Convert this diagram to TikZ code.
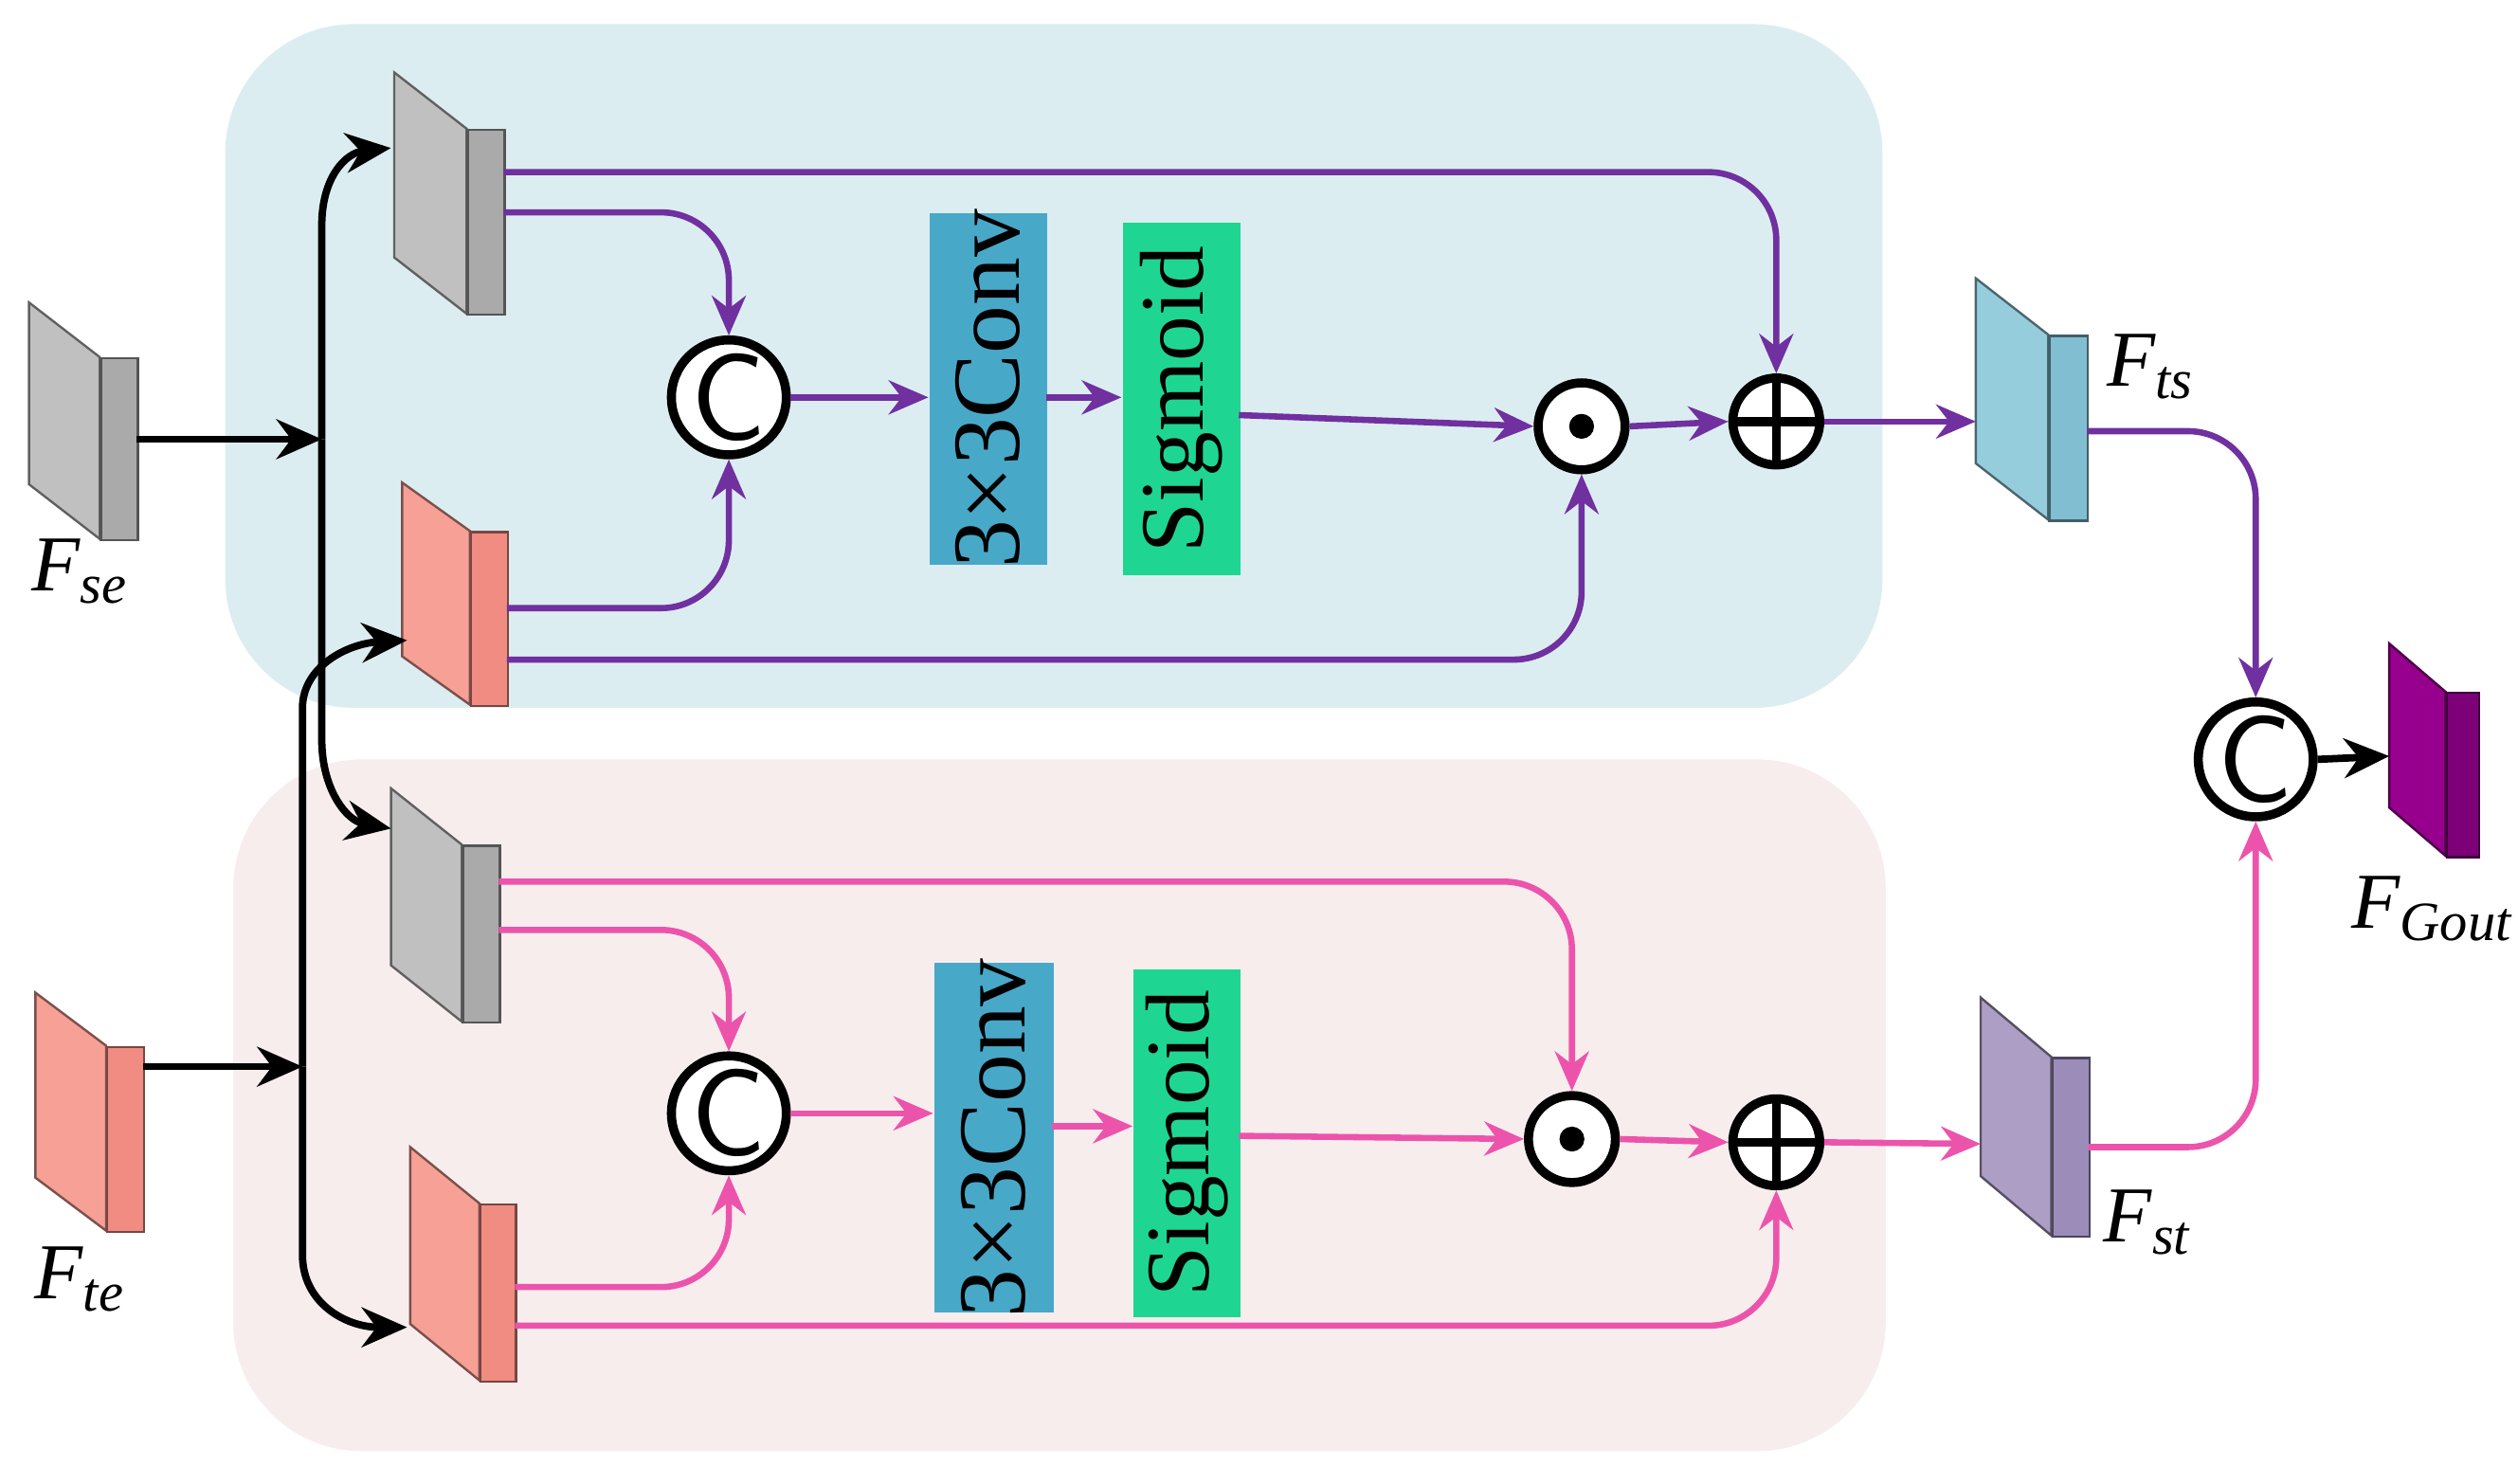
\documentclass[tikz,border=0pt]{standalone}
\usepackage{fontspec}
\setmainfont{Liberation Serif}
\usetikzlibrary{arrows.meta}
\definecolor{bgb}{RGB}{220,237,241}
\definecolor{bgp}{RGB}{248,237,237}
\definecolor{pur}{RGB}{112,48,160}
\definecolor{pnk}{RGB}{236,84,172}
\definecolor{gryA}{RGB}{192,192,192}
\definecolor{gryB}{RGB}{170,170,170}
\definecolor{salA}{RGB}{246,160,150}
\definecolor{salB}{RGB}{240,140,130}
\definecolor{cyA}{RGB}{150,205,220}
\definecolor{cyB}{RGB}{130,190,210}
\definecolor{lvA}{RGB}{172,158,196}
\definecolor{lvB}{RGB}{155,140,185}
\definecolor{mgA}{RGB}{150,0,140}
\definecolor{mgB}{RGB}{125,0,120}
\definecolor{convc}{RGB}{72,168,200}
\definecolor{sigc}{RGB}{30,214,146}
\newcommand{\blk}[8]{% name, x, y, w, h, dx, dy, colours A/B via #8
\fill[#8A,draw=black!50!#8A,line width=0.4pt] (#2,#3) -- (#2,#3+#5) -- (#2-#6,#3+#5-#7) -- (#2-#6,#3-#7) -- cycle;
\node[fill=#8B,draw=black!50!#8B,line width=0.4pt,minimum width=#4*0.01cm,minimum height=#5*0.01cm,inner sep=0,anchor=north west] (#1) at (#2,#3) {};}
\begin{document}
\begin{tikzpicture}[x=0.01cm,y=-0.01cm,
 pa/.style={pur,line width=1.1pt,-{Stealth[length=7pt,width=6pt]},rounded corners=12pt},
 pk/.style={pnk,line width=1.1pt,-{Stealth[length=7pt,width=6pt]},rounded corners=12pt},
 ba/.style={black,line width=1.3pt,-{Stealth[length=8pt,width=7pt]}},
 op/.style={circle,draw,line width=1.6pt,fill=white,minimum size=0.54cm,inner sep=0},
 box/.style={minimum width=0.73cm,minimum height=2.18cm,inner sep=0,anchor=north west},
 lab/.style={font=\fontsize{14}{14}\selectfont\itshape}]
\useasboundingbox (0,0) rectangle (1565,922);
\fill[bgb,rounded corners=0.8cm] (140,15) rectangle (1170,440);
\fill[bgp,rounded corners=0.8cm] (145,472) rectangle (1172,902);
\blk{fse}{62}{222}{23}{113}{44}{34}{gry}
\blk{g1}{290}{80}{23}{115}{45}{35}{gry}
\blk{s1}{292}{330}{23}{108}{42}{30}{sal}
\blk{g2}{287}{525}{23}{110}{44}{35}{gry}
\blk{s2}{298}{748}{22}{110}{43}{35}{sal}
\blk{fte}{66}{650}{23}{115}{44}{33}{sal}
\blk{fts}{1273}{208}{24}{115}{45}{35}{cy}
\blk{fst}{1275}{657}{23}{111}{44}{37}{lv}
\blk{fgo}{1520}{430}{20}{102}{35}{30}{mg}
\node[box,fill=convc,minimum height=2.18cm] (cv1) at (577,132) {};
\node[rotate=90,font=\fontsize{17}{17}\selectfont] at (cv1.center) {3×3Conv};
\node[box,fill=sigc,minimum height=2.19cm] (sg1) at (697,138) {};
\node[rotate=90,font=\fontsize{16}{16}\selectfont] at (sg1.center) {Sigmoid};
\node[box,fill=convc,minimum width=0.74cm,minimum height=2.17cm] (cv2) at (580,598) {};
\node[rotate=90,font=\fontsize{17}{17}\selectfont] at (cv2.center) {3×3Conv};
\node[box,fill=sigc,minimum width=0.66cm,minimum height=2.16cm] (sg2) at (704,602) {};
\node[rotate=90,font=\fontsize{16}{16}\selectfont] at (sg2.center) {Sigmoid};
\node[op,font=\fontsize{22}{22}\sffamily] (c1) at (453,247) {C};
\node[op,font=\fontsize{22}{22}\sffamily] (c2) at (453,692) {C};
\node[op,font=\fontsize{22}{22}\sffamily] (co) at (1402,472) {C};
\node[op] (d1) at (983,265) {}; \fill (d1) circle (2.2pt);
\node[op] (d2) at (977,708) {}; \fill (d2) circle (2.2pt);
\node[op] (p1) at (1104,262) {}; \draw[line width=1.6pt] (p1.north)--(p1.south) (p1.west)--(p1.east);
\node[op] (p2) at (1104,710) {}; \draw[line width=1.6pt] (p2.north)--(p2.south) (p2.west)--(p2.east);
% purple
\draw[pa] (313,107) -| (p1.north);
\draw[pa] (313,132) -| (c1.north);
\draw[pa] (315,378) -| (c1.south);
\draw[pa] (315,410) -| (d1.south);
\draw[pa] (c1.east) -- (cv1.west|-c1);
\draw[pa] (650,247) -- (sg1.west|-0,247);
\draw[pa] (770,258) -- (d1.west);
\draw[pa] (d1.east) -- (p1.west);
\draw[pa] (p1.east) -- (1228,262);
\draw[pa] (1297,268) -| (co.north);
% pink
\draw[pk] (310,548) -| (d2.north);
\draw[pk] (310,578) -| (c2.north);
\draw[pk] (320,800) -| (c2.south);
\draw[pk] (320,824) -| (p2.south);
\draw[pk] (c2.east) -- (cv2.west|-c2);
\draw[pk] (654,700) -- (sg2.west|-0,700);
\draw[pk] (770,706) -- (d2.west);
\draw[pk] (d2.east) -- (p2.west);
\draw[pk] (p2.east) -- (1231,711);
\draw[pk] (1298,713) -| (co.south);
% black
\coordinate (j1) at (200,273);
\coordinate (j2) at (188,663);
\draw[ba] (85,273) -- (j1);
\draw[ba] (89,663) -- (j2);
\draw[ba] (200,273) -- (200,140) .. controls (200,110) and (215,95) .. (243,92);
\draw[ba] (200,273) -- (200,460) .. controls (200,490) and (215,510) .. (243,515);
\draw[ba] (188,663) -- (188,440) .. controls (188,415) and (215,400) .. (253,398);
\draw[ba] (188,663) -- (188,780) .. controls (188,810) and (215,825) .. (253,825);
\draw[ba] (co.east) -- (1485,470);
\node[lab] at (50,355) {F\textsubscript{se}};
\node[lab] at (50,795) {F\textsubscript{te}};
\node[lab] at (1337,228) {F\textsubscript{ts}};
\node[lab] at (1335,760) {F\textsubscript{st}};
\node[lab] at (1512,565) {F\textsubscript{Gout}};
\end{tikzpicture}
\end{document}
